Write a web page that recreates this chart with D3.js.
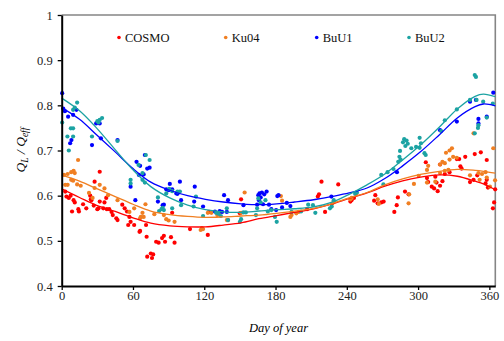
<!DOCTYPE html>
<html>
<head>
<meta charset="utf-8">
<script src="https://cdn.jsdelivr.net/npm/d3@7"></script>
<style>
  body { margin: 0; background: #fff; }
  text { font-family: "Liberation Serif", "Times New Roman", serif; }
</style>
</head>
<body>
<div id="chart"></div>
<script>
// series names and colours
const seriesNames = ['COSMO', 'Ku04', 'BuU1', 'BuU2'];
const seriesColors = ['#ff0000', '#f07f22', '#0000ff', '#1ca3a3'];

const xTicks = [0, 60, 120, 180, 240, 300, 360];
const yTicks = [0.4, 0.5, 0.6, 0.7, 0.8, 0.9, 1];

// observations, [day, Q_L/Q_eff]
const cosmoPts = [
  [3,0.609],[4,0.598],[6,0.595],[7.5,0.6],[11,0.585],[10,0.59],[14,0.57],[14.5,0.565],[8.7,0.565],[18,0.581],
  [24,0.6],[24.5,0.592],[25,0.59],[27,0.578],[20.7,0.572],[30,0.57],[31,0.572],[32,0.653],[27.7,0.631],[32,0.587],
  [36,0.585],[37.5,0.595],[35,0.572],[38,0.57],[40,0.57],[42,0.564],[43,0.557],[46,0.55],[47,0.546],[51,0.58],
  [53,0.572],[55,0.565],[57,0.553],[58,0.542],[61,0.535],[56,0.535],[66,0.522],[71,0.535],[65.5,0.52],[71.5,0.509],
  [79.5,0.498],[81.6,0.496],[84.5,0.506],[86,0.511],[87,0.498],[92,0.508],[95,0.496],[72,0.465],[75,0.472],[77,0.47],
  [76,0.462],[93,0.562],[108,0.526],[123,0.513],[124,0.564],[140,0.546],[151,0.592],[150,0.561],[206.5,0.57],[215.6,0.598],
  [216.6,0.603],[218.7,0.631],[221.7,0.564],[232.8,0.625],[243,0.587],[244,0.59],[246,0.595],[263,0.589],[264,0.601],[266,0.583],
  [269,0.585],[271,0.587],[280,0.564],[282,0.579],[283,0.596],[289,0.609],[292,0.603],[306.5,0.674],[307.5,0.639],[308.5,0.63],
  [311.5,0.62],[313.5,0.616],[315.5,0.629],[318.5,0.669],[314.5,0.642],[316.5,0.61],[318.5,0.622],[320.5,0.632],[322.5,0.648],[326.5,0.652],
  [332.6,0.681],[334.6,0.681],[335.6,0.665],[336.6,0.66],[339.7,0.686],[343.7,0.63],[346.7,0.635],[349.8,0.645],[347.7,0.692],[352.8,0.696],
  [356.8,0.627],[357.8,0.635],[357.8,0.679],[358.8,0.618],[363,0.572],[364,0.585],[364.9,0.614]
];
const ku04Pts = [
  [2,0.646],[5,0.648],[8,0.652],[10,0.655],[11,0.65],[3,0.624],[5,0.624],[13.8,0.679],[8,0.635],[9.6,0.633],
  [13,0.625],[16,0.622],[23,0.606],[27.7,0.617],[26,0.595],[32,0.624],[36,0.616],[39,0.601],[47,0.59],[57,0.564],
  [61,0.572],[66.6,0.553],[69,0.553],[70.5,0.581],[68,0.562],[66,0.55],[78,0.559],[86,0.557],[95,0.542],[90,0.545],
  [88,0.548],[117,0.524],[118,0.528],[119,0.526],[123,0.562],[126,0.562],[131,0.557],[133,0.562],[139,0.546],[151,0.562],
  [154,0.607],[184.5,0.599],[185.5,0.589],[192.5,0.553],[193.5,0.557],[197.5,0.561],[199.5,0.564],[228,0.583],[229.5,0.587],[243,0.592],
  [244,0.595],[248,0.604],[266,0.592],[267,0.582],[292,0.583],[292.5,0.603],[296.5,0.626],[300.5,0.644],[307.5,0.629],[307.5,0.657],
  [308.5,0.666],[314.5,0.631],[318.5,0.669],[320.5,0.675],[322.5,0.672],[318.5,0.65],[322.5,0.655],[325.5,0.657],[323.5,0.695],[326.5,0.7],
  [328.5,0.705],[326.5,0.68],[329.5,0.686],[332.6,0.684],[343.7,0.645],[346.7,0.738],[350.8,0.65],[353.8,0.648],[356.8,0.652],[351.8,0.635],
  [357.8,0.64],[360.5,0.62],[363.3,0.705],[364.8,0.634]
];
const buu1Pts = [
  [0.4,0.827],[1.3,0.793],[2.7,0.787],[5.4,0.775],[9.6,0.779],[12.4,0.79],[8.2,0.723],[7.1,0.716],[29,0.76],[30.5,0.762],
  [32,0.76],[33,0.727],[25.5,0.712],[47,0.723],[63,0.675],[66,0.666],[70,0.69],[65,0.646],[69,0.647],[58,0.62],
  [62,0.59],[72,0.66],[74,0.662],[85,0.579],[86,0.58],[81,0.587],[88,0.614],[90,0.612],[91,0.626],[93,0.614],
  [99.5,0.631],[100.5,0.59],[96.5,0.605],[97.5,0.604],[112,0.62],[111.5,0.587],[119,0.576],[129,0.565],[133,0.566],[135,0.564],
  [136.7,0.601],[140,0.59],[139,0.564],[153,0.579],[165.5,0.601],[166,0.59],[166.5,0.605],[168.5,0.607],[170.5,0.603],[172.5,0.609],
  [167.5,0.596],[164.5,0.58],[169.5,0.581],[174.5,0.58],[176.5,0.57],[180.5,0.568],[181.5,0.599],[182.5,0.601],[185.5,0.574],[189.5,0.584],
  [192.5,0.577],[227,0.598],[282.2,0.652],[318.5,0.745],[332.6,0.764],[343.7,0.808],[348.7,0.812],[350.8,0.77],[350.8,0.76],[357.8,0.775],
  [363.3,0.828]
];
const buu2Pts = [
  [0.4,0.762],[9.6,0.79],[13,0.806],[11,0.795],[7.7,0.749],[9.6,0.749],[4.8,0.731],[9.6,0.731],[6,0.7],[30,0.765],
  [32,0.768],[34,0.772],[31,0.762],[25.5,0.731],[47,0.721],[70.8,0.69],[64.7,0.668],[58,0.635],[58,0.627],[68,0.635],
  [74,0.679],[68,0.65],[70,0.629],[88,0.605],[90.5,0.615],[93,0.61],[97.5,0.609],[99.5,0.609],[81,0.596],[82,0.566],
  [84,0.57],[85,0.573],[86,0.568],[93,0.572],[100.5,0.579],[111,0.576],[113,0.598],[119,0.555],[130,0.562],[132,0.56],
  [134,0.555],[140,0.546],[139,0.572],[150,0.542],[151,0.548],[153,0.563],[155,0.563],[163.5,0.557],[164.5,0.572],[165.5,0.594],
  [167.5,0.585],[171.5,0.59],[173.5,0.565],[176.5,0.568],[179.5,0.553],[181,0.542],[193.5,0.564],[201.5,0.565],[207.5,0.58],[211.5,0.579],
  [213.5,0.562],[225.8,0.572],[227.3,0.576],[229,0.59],[247,0.604],[248.5,0.607],[270.8,0.625],[269,0.646],[274.3,0.652],[279.3,0.659],
  [283.3,0.675],[284.3,0.686],[285.3,0.68],[284.8,0.699],[287.3,0.718],[288.3,0.725],[290.3,0.722],[289.3,0.71],[291.3,0.715],[294.3,0.705],
  [298.3,0.708],[301.3,0.706],[301.3,0.728],[302.4,0.716],[305.4,0.694],[306.4,0.69],[319.5,0.743],[322.5,0.767],[332.6,0.791],[343.7,0.812],
  [347.7,0.738],[347.7,0.867],[348.7,0.863],[349.2,0.812],[350.4,0.75],[350.8,0.756],[354.8,0.808],[357.8,0.773],[362.9,0.804]
];

// fitted seasonal curves, read at these days
const fitDays = [0, 15, 30, 45, 60, 75, 91, 106, 121, 136, 151, 166, 181, 196, 212, 227, 242, 257, 272, 287, 302, 318, 333, 348, 355, 365];
const cosmoFit = [0.615, 0.596, 0.578, 0.565, 0.551, 0.539, 0.533, 0.531, 0.531, 0.535, 0.540, 0.549, 0.556, 0.563, 0.571, 0.581, 0.594, 0.606, 0.621, 0.633, 0.641, 0.646, 0.643, 0.632, 0.626, 0.613];
const ku04Fit = [0.646, 0.632, 0.615, 0.598, 0.581, 0.566, 0.558, 0.554, 0.552, 0.553, 0.555, 0.557, 0.561, 0.566, 0.572, 0.582, 0.595, 0.607, 0.624, 0.637, 0.647, 0.654, 0.658, 0.656, 0.654, 0.650];
const buu1Fit = [0.795, 0.769, 0.733, 0.697, 0.660, 0.630, 0.612, 0.600, 0.592, 0.586, 0.582, 0.580, 0.582, 0.586, 0.591, 0.598, 0.606, 0.617, 0.638, 0.666, 0.697, 0.735, 0.772, 0.797, 0.803, 0.799];
const buu2Fit = [0.816, 0.788, 0.748, 0.702, 0.657, 0.620, 0.595, 0.579, 0.569, 0.564, 0.563, 0.566, 0.569, 0.571, 0.575, 0.585, 0.603, 0.624, 0.648, 0.679, 0.712, 0.752, 0.792, 0.820, 0.825, 0.819];

const allPts = [cosmoPts, ku04Pts, buu1Pts, buu2Pts];
const allFits = [cosmoFit, ku04Fit, buu1Fit, buu2Fit];

const width = 504, height = 341;
const margin = { left: 61.7, top: 15, right: 8.7, bottom: 55 };

const svg = d3.select('#chart').append('svg')
  .attr('width', width)
  .attr('height', height);

const x = d3.scaleLinear()
  .domain([0, 365])
  .range([margin.left, width - margin.right]);
const y = d3.scaleLinear()
  .domain([0.4, 1])
  .range([height - margin.bottom, margin.top]);

// grey frame on top and right
svg.append('path')
  .attr('d', `M${x(0)},${y(1)}H${x(365)}V${y(0.4)}`)
  .attr('fill', 'none')
  .attr('stroke', '#858585')
  .attr('stroke-width', 1.6);

// points
allPts.forEach((pts, i) => {
  svg.append('g')
    .attr('fill', seriesColors[i])
    .selectAll('circle')
    .data(pts)
    .enter().append('circle')
      .attr('cx', d => x(d[0]))
      .attr('cy', d => y(d[1]))
      .attr('r', 2.1);
});

// fits
const line = d3.line()
  .x((d, j) => x(fitDays[j]))
  .y(d => y(d))
  .curve(d3.curveCatmullRom);

allFits.forEach((fit, i) => {
  svg.append('path')
    .attr('d', line(fit))
    .attr('fill', 'none')
    .attr('stroke', seriesColors[i])
    .attr('stroke-width', 1.3);
});

// axes
const xAxis = d3.axisBottom(x).tickValues(xTicks).tickSize(4).tickSizeOuter(0).tickPadding(1.5);
const yAxis = d3.axisLeft(y).tickValues(yTicks).tickSize(4).tickSizeOuter(0).tickPadding(5)
  .tickFormat(d3.format('~g'));

const gx = svg.append('g')
  .attr('transform', `translate(0,${y(0.4)})`)
  .call(xAxis);
const gy = svg.append('g')
  .attr('transform', `translate(${x(0)},0)`)
  .call(yAxis);

[gx, gy].forEach(g => {
  g.attr('font-family', null);
  g.select('.domain').attr('stroke', '#000').attr('stroke-width', 2);
  g.selectAll('.tick line').attr('stroke', '#000').attr('stroke-width', 1.3);
  g.selectAll('.tick text')
    .attr('fill', '#222')
    .style('font-family', '"Liberation Serif", serif')
    .style('font-size', '12.5px');
});

// axis titles
svg.append('text')
  .attr('x', (x(0) + x(365)) / 2)
  .attr('y', 332)
  .attr('text-anchor', 'middle')
  .attr('font-style', 'italic')
  .attr('font-size', 12.5)
  .text('Day of year');

const yt = svg.append('text')
  .attr('transform', `translate(25,150) rotate(-90)`)
  .attr('text-anchor', 'middle')
  .attr('font-style', 'italic')
  .attr('font-size', 13.5);
yt.append('tspan').text('Q');
yt.append('tspan').attr('font-size', 9.5).attr('dy', 3).text('L');
yt.append('tspan').attr('dy', -3).text(' / Q');
yt.append('tspan').attr('font-size', 9.5).attr('dy', 3).text('eff');

// legend
const legendX = [119, 225.7, 316.7, 409];
const legend = svg.append('g');
seriesNames.forEach((name, i) => {
  legend.append('circle')
    .attr('cx', legendX[i])
    .attr('cy', 37.5)
    .attr('r', 1.8)
    .attr('fill', seriesColors[i]);
  legend.append('text')
    .attr('x', legendX[i] + 6)
    .attr('y', 42)
    .attr('font-size', 12.5)
    .attr('fill', '#111')
    .text(name);
});
</script>
</body>
</html>
